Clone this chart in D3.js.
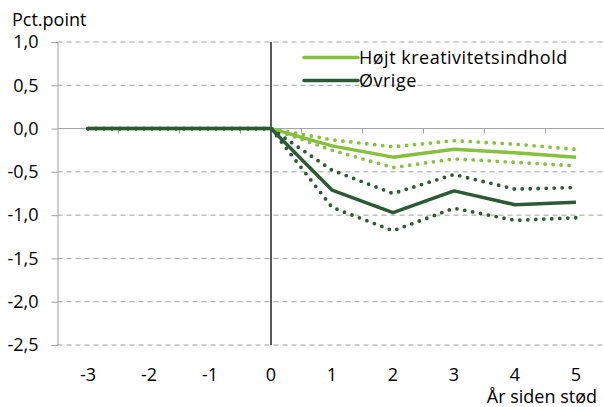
<!DOCTYPE html>
<html>
<head>
<meta charset="utf-8">
<script src="https://cdn.jsdelivr.net/npm/d3@7"></script>
<style>
  body { margin: 0; background: #fff; }
  svg { display: block; font-family: "Open Sans", "Noto Sans", sans-serif; }
</style>
</head>
<body>
<svg id="chart" width="604" height="407"></svg>
<script>
const years = [-3, -2, -1, 0, 1, 2, 3, 4, 5];
const yTicks = [1.0, 0.5, 0.0, -0.5, -1.0, -1.5, -2.0, -2.5];

// Højt kreativitetsindhold
const hoejt = [0, 0, 0, 0, -0.20, -0.33, -0.24, -0.28, -0.33];
const hoejtUpper = [0, 0, 0, 0, -0.13, -0.21, -0.14, -0.18, -0.24];
const hoejtLower = [0, 0, 0, 0, -0.25, -0.45, -0.35, -0.39, -0.43];

// Øvrige
const oevrige = [0, 0, 0, 0, -0.71, -0.97, -0.72, -0.88, -0.85];
const oevrigeUpper = [0, 0, 0, 0, -0.48, -0.75, -0.53, -0.70, -0.68];
const oevrigeLower = [0, 0, 0, 0, -0.91, -1.18, -0.92, -1.06, -1.03];

const lightGreen = "#85c13b";
const darkGreen = "#2c5a34";

const svg = d3.select("#chart");
const mLeft = 57.5, mRight = 606.5, mTop = 42, mBottom = 345;
const gridRight = 604;

const x = d3.scaleBand().domain(years).range([mLeft, mRight]);
const xc = d => x(d) + x.bandwidth() / 2;
const y = d3.scaleLinear().domain([-2.5, 1.0]).range([mBottom, mTop]);

const fmt = v => d3.format(".1f")(v).replace(".", ",").replace("−", "-");

// gridlines
svg.append("g")
  .selectAll("line")
  .data(yTicks.filter(v => v !== 0))
  .enter()
  .append("line")
  .attr("x1", mLeft).attr("x2", gridRight)
  .attr("y1", d => y(d)).attr("y2", d => y(d))
  .attr("stroke", "#a0a0a0")
  .attr("stroke-width", 1)
  .attr("stroke-dasharray", "5,4");

// y axis
const yAxis = svg.append("g")
  .attr("transform", `translate(${mLeft},0)`)
  .call(d3.axisLeft(y).tickValues(yTicks).tickFormat(fmt).tickSize(6).tickPadding(13));
yAxis.select(".domain").attr("stroke", "#a0a0a0");
yAxis.selectAll(".tick line").attr("stroke", "#a0a0a0");
yAxis.selectAll("text")
  .attr("fill", "#000")
  .style("font-size", "18px")
  .style("font-family", "'Open Sans', 'Noto Sans', sans-serif");

// zero line with ticks between categories
svg.append("line")
  .attr("x1", mLeft).attr("x2", gridRight)
  .attr("y1", y(0)).attr("y2", y(0))
  .attr("stroke", "#a0a0a0");
svg.append("g")
  .selectAll("line")
  .data(years.slice(1))
  .enter()
  .append("line")
  .attr("x1", d => x(d)).attr("x2", d => x(d))
  .attr("y1", y(0)).attr("y2", y(0) + 5)
  .attr("stroke", "#a0a0a0");

// x labels
svg.append("g")
  .selectAll("text")
  .data(years)
  .enter()
  .append("text")
  .attr("x", d => xc(d))
  .attr("y", 381)
  .attr("text-anchor", "middle")
  .style("font-size", "18px")
  .text(d => String(d));

// vertical line at 0
svg.append("line")
  .attr("x1", xc(0)).attr("x2", xc(0))
  .attr("y1", mTop).attr("y2", mBottom)
  .attr("stroke", "#000")
  .attr("stroke-width", 1.3);

const line = d3.line()
  .x((d, i) => xc(years[i]))
  .y(d => y(d));

function dotted(data, color) {
  svg.append("path")
    .datum(data)
    .attr("d", line)
    .attr("fill", "none")
    .attr("stroke", color)
    .attr("stroke-width", 3.8)
    .attr("stroke-linecap", "round")
    .attr("stroke-dasharray", "0,8");
}
function solid(data, color) {
  svg.append("path")
    .datum(data)
    .attr("d", line)
    .attr("fill", "none")
    .attr("stroke", color)
    .attr("stroke-width", 3.5)
    .attr("stroke-linejoin", "round");
}

dotted(hoejtUpper, lightGreen);
dotted(hoejtLower, lightGreen);
solid(hoejt, lightGreen);
dotted(oevrigeUpper, darkGreen);
dotted(oevrigeLower, darkGreen);
solid(oevrige, darkGreen);

// axis titles
svg.append("text")
  .attr("x", 12).attr("y", 26)
  .style("font-size", "18px")
  .text("Pct.point");
svg.append("text")
  .attr("x", 597).attr("y", 403)
  .attr("text-anchor", "end")
  .style("font-size", "18px")
  .text("År siden stød");

// legend
const legend = [
  { name: "Højt kreativitetsindhold", color: lightGreen },
  { name: "Øvrige", color: darkGreen }
];
const lg = svg.append("g")
  .selectAll("g")
  .data(legend)
  .enter()
  .append("g")
  .attr("transform", (d, i) => `translate(304,${57.5 + i * 23})`);
lg.append("line")
  .attr("x1", 0).attr("x2", 54)
  .attr("stroke", d => d.color)
  .attr("stroke-width", 3.5)
  .attr("stroke-linecap", "round");
lg.append("text")
  .attr("x", 55).attr("y", 6.5)
  .style("font-size", "18px")
  .style("letter-spacing", "0.5px")
  .text(d => d.name);
</script>
</body>
</html>
